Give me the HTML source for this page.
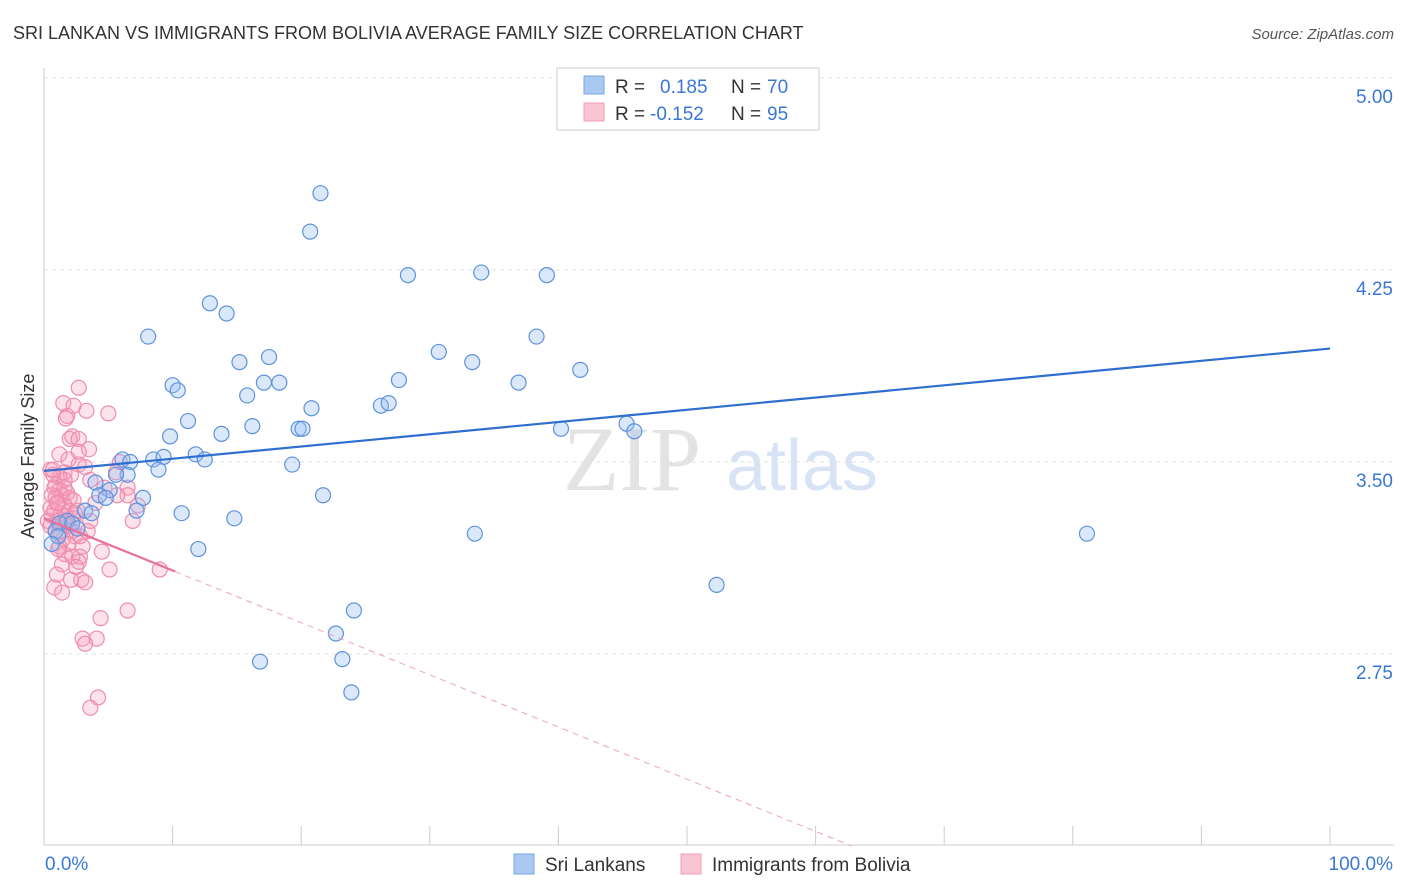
<!DOCTYPE html>
<html><head><meta charset="utf-8"><style>
body{margin:0;background:#fff;font-family:"Liberation Sans",sans-serif;}
svg{display:block}
</style></head><body>
<svg id="chart" width="1406" height="892" xmlns="http://www.w3.org/2000/svg" font-family="Liberation Sans, sans-serif">
<text x="13" y="39" font-size="18" fill="#333">SRI LANKAN VS IMMIGRANTS FROM BOLIVIA AVERAGE FAMILY SIZE CORRELATION CHART</text>
<text x="1394" y="39" font-size="15" fill="#555" text-anchor="end" font-style="italic">Source: ZipAtlas.com</text>
<g>
<text x="632" y="490" font-size="92" fill="#d8d8d8" text-anchor="middle" font-family="Liberation Serif, serif" opacity="0.7">ZIP</text>
<text x="802" y="490" font-size="72" fill="#c8daf2" text-anchor="middle" opacity="0.7">atlas</text>
</g>
<g id="grid"></g><g id="axes"></g><g id="pts"></g><g id="lines"></g>
<text transform="translate(34,456) rotate(-90)" font-size="18" fill="#333" text-anchor="middle">Average Family Size</text>
<g>
<rect x="557" y="68" width="262" height="62" fill="#fff" stroke="#ccc"/>
<rect x="584" y="76" width="20" height="18" fill="#aac9f2" stroke="#7aa6e0"/>
<text x="615" y="93" font-size="19" fill="#333">R = </text><text x="660" y="93" font-size="19" fill="#3a78d4">0.185</text>
<text x="731" y="93" font-size="19" fill="#333">N = </text><text x="767" y="93" font-size="19" fill="#3a78d4">70</text>
<rect x="584" y="103" width="20" height="18" fill="#f9c4d4" stroke="#f0a0b8"/>
<text x="615" y="120" font-size="19" fill="#333">R = </text><text x="650" y="120" font-size="19" fill="#3a78d4">-0.152</text>
<text x="731" y="120" font-size="19" fill="#333">N = </text><text x="767" y="120" font-size="19" fill="#3a78d4">95</text>
</g>
<g>
<rect x="514" y="854" width="20" height="20" fill="#aac9f2" stroke="#7aa6e0"/>
<text x="545" y="871" font-size="19" fill="#333">Sri Lankans</text>
<rect x="681" y="854" width="20" height="20" fill="#f9c4d4" stroke="#f0a0b8"/>
<text x="712" y="871" font-size="19" fill="#333">Immigrants from Bolivia</text>
</g>
</svg>
<script>
const yTicks=[5.00,4.25,3.50,2.75];
const xTickLabels=["0.0%","100.0%"];
const blueX=[21.5,20.7,28.3,34,39.1,12.9,14.2,8.1,38.3,30.7,17.5,15.2,33.3,41.7,10,10.4,17.1,18.3,27.6,36.9,15.8,20.8,26.2,26.8,11.2,16.2,13.8,19.8,20.1,9.8,40.2,45.3,45.9,6.1,6.7,8.5,9.3,11.8,12.5,8.9,19.3,6.5,5.6,4,5.1,4.3,4.8,7.7,21.7,7.2,10.7,3.2,3.7,14.8,1.8,1.2,2.2,2.6,0.9,1.1,0.6,33.5,81.1,12,52.3,24.1,22.7,23.2,16.8,23.9];
const blueY=[4.55,4.40,4.23,4.24,4.23,4.12,4.08,3.99,3.99,3.93,3.91,3.89,3.89,3.86,3.80,3.78,3.81,3.81,3.82,3.81,3.76,3.71,3.72,3.73,3.66,3.64,3.61,3.63,3.63,3.60,3.63,3.65,3.62,3.51,3.50,3.51,3.52,3.53,3.51,3.47,3.49,3.45,3.45,3.42,3.39,3.37,3.36,3.36,3.37,3.31,3.30,3.31,3.30,3.28,3.27,3.26,3.26,3.24,3.23,3.21,3.18,3.22,3.22,3.16,3.02,2.92,2.83,2.73,2.72,2.60];
const pinkX=[2.7,1.5,2.3,3.3,5,1.8,1.7,2.2,2,2.7,3.5,2.7,1.2,5.9,2.7,3.2,1.6,2.1,5.6,1.2,1.6,3.6,0.9,0.8,6.5,1.2,1.8,0.6,1.4,6.5,0.9,2,2.3,5.7,1.1,1.6,0.5,7.3,0.8,2,1.3,2.4,0.6,1.1,6.9,1.5,0.5,1.9,2.2,0.9,2.4,1.5,2.8,1.9,1.2,3,4.5,1.6,2.2,2.8,2.7,1.4,2.5,5.1,9,1,2.9,2.1,3.2,0.8,1.4,6.5,4.4,3,4.1,3.2,4.2,3.6,0.5,0.7,1,1.7,0.3,1.2,3.4,2.3,0.7,1.9,4,4.7,1.6,2.6,1.1,1.7,3.6];
const pinkY=[3.79,3.73,3.72,3.70,3.69,3.68,3.67,3.60,3.59,3.59,3.55,3.54,3.53,3.50,3.49,3.48,3.46,3.45,3.46,3.44,3.43,3.43,3.41,3.40,3.40,3.39,3.38,3.37,3.37,3.37,3.36,3.36,3.35,3.37,3.34,3.33,3.32,3.33,3.31,3.31,3.30,3.30,3.29,3.27,3.27,3.26,3.25,3.25,3.23,3.23,3.21,3.20,3.21,3.18,3.17,3.17,3.15,3.14,3.13,3.13,3.11,3.10,3.09,3.08,3.08,3.06,3.04,3.04,3.03,3.01,2.99,2.92,2.89,2.81,2.81,2.79,2.58,2.54,3.47,3.47,3.34,3.29,3.27,3.23,3.23,3.28,3.45,3.51,3.34,3.40,3.40,3.31,3.16,3.26,3.27];
const blueTrend=[3.465,3.943];
const pinkTrend=[3.28,2.0];
const X0=44,X1=1330,Y35=462,PPU=256;
const xs=p=>X0+(X1-X0)*p/100, ys=v=>Y35-(v-3.5)*PPU;
const NS="http://www.w3.org/2000/svg";
function mk(parent,tag,attrs){const e=document.createElementNS(NS,tag);for(const k in attrs)e.setAttribute(k,attrs[k]);document.getElementById(parent).appendChild(e);return e;}
yTicks.forEach(v=>{
 const g=mk("grid","line",{x1:44,x2:1394,y1:ys(v),y2:ys(v),stroke:"#e2e2e2","stroke-dasharray":"4,4"});
 
 
 const t=mk("grid","text",{x:1393,y:ys(v)+25,"font-size":19,fill:"#3a78d4","text-anchor":"end"});
 t.textContent=v.toFixed(2);
 
 
});
const ax=mk("axes","line",{x1:44,x2:44,y1:68,y2:845,stroke:"#ccc"});


const bx=mk("axes","line",{x1:44,x2:1394,y1:845,y2:845,stroke:"#ccc"});


for(let i=0;i<=10;i++){const tk=mk("axes","line",{x1:xs(i*10),x2:xs(i*10),y1:826,y2:845,stroke:"#ccc"});
 
 }
const l0=mk("axes","text",{x:45,y:870,"font-size":19,fill:"#3a78d4"});l0.textContent=xTickLabels[0];


const l1=mk("axes","text",{x:1393,y:870,"font-size":19,fill:"#3a78d4","text-anchor":"end"});l1.textContent=xTickLabels[1];


pinkX.forEach((x,i)=>{const c=mk("pts","circle",{cx:xs(x),cy:ys(pinkY[i]),r:7.5,fill:"rgba(246,160,188,0.3)",stroke:"#f08cae","stroke-width":1.2});
 
 });
blueX.forEach((x,i)=>{const c=mk("pts","circle",{cx:xs(x),cy:ys(blueY[i]),r:7.5,fill:"rgba(150,190,240,0.35)",stroke:"#5e92dc","stroke-width":1.2});
 
 });
const bl=mk("lines","line",{x1:xs(0),y1:ys(blueTrend[0]),x2:xs(100),y2:ys(blueTrend[1]),stroke:"#2f6fd0","stroke-width":2.2});


const pk=(p)=>pinkTrend[0]+(pinkTrend[1]-pinkTrend[0])*p/62.8;
const pl=mk("lines","line",{x1:xs(0),y1:ys(pk(0)),x2:xs(10.2),y2:ys(pk(10.2)),stroke:"#e8709a","stroke-width":2.2});


const pd=mk("lines","line",{x1:xs(10.2),y1:ys(pk(10.2)),x2:xs(62.8),y2:ys(pk(62.8)),stroke:"#f0a0bc","stroke-width":1,"stroke-dasharray":"6,5"});


</script>
</body></html>
